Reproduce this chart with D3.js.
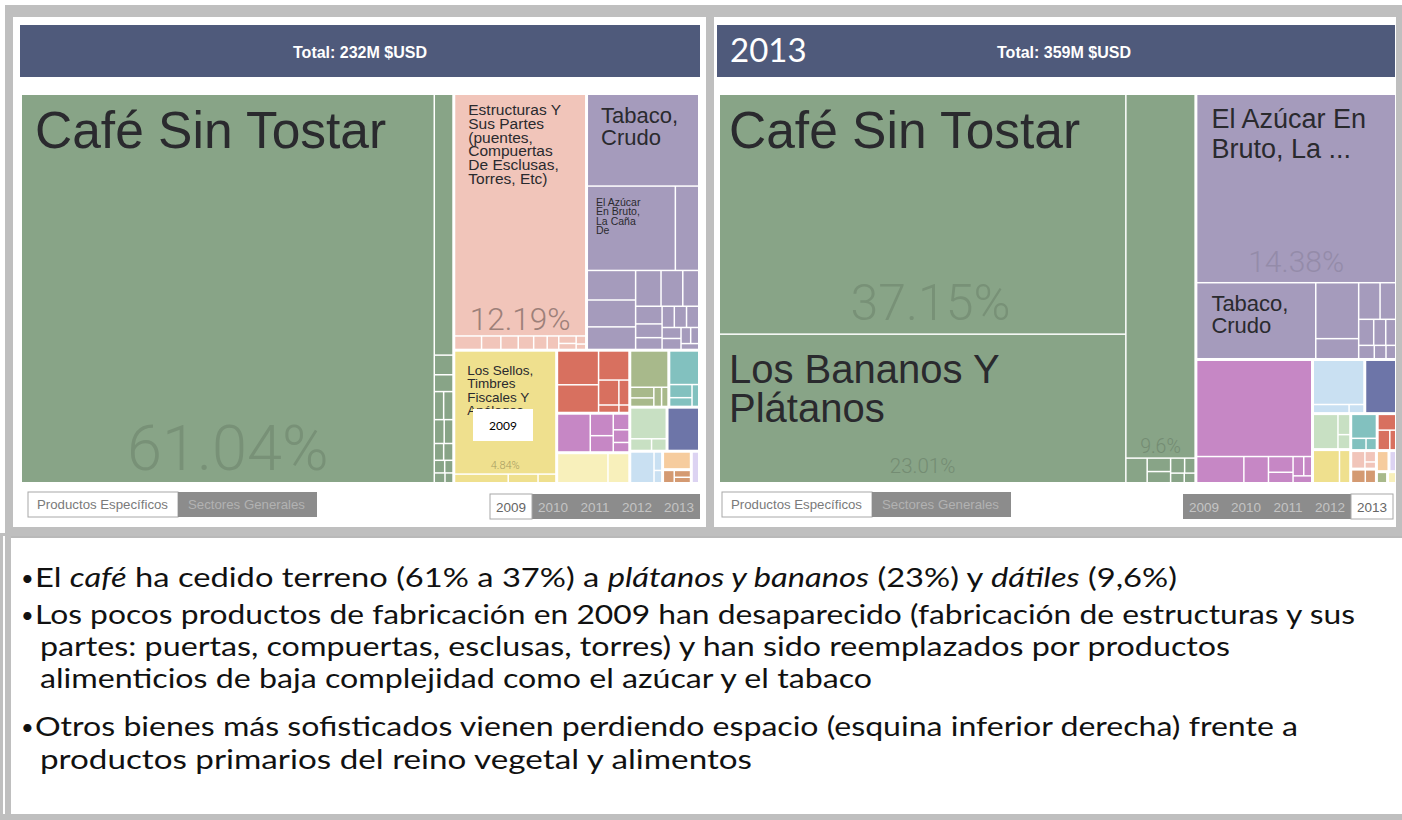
<!DOCTYPE html>
<html>
<head>
<meta charset="utf-8">
<script src="https://cdn.jsdelivr.net/npm/d3@7"></script>
<style>
  html, body { margin: 0; padding: 0; background: #fff; }
  svg { display: block; }
</style>
</head>
<body>
<svg id="chart" width="1402" height="820"></svg>
<script>
// ---- Data -------------------------------------------------------------
// Export shares (% of total) per product: [sector, group, product, share]
const panelYears = ["2009", "2013"];
const panelTotals = ["232M", "359M"];
const yearButtons = ["2009", "2010", "2011", "2012", "2013"];
const viewButtons = ["Productos Específicos", "Sectores Generales"];

const products2009 = [
  ["Productos Vegetales", "cafe", "Café Sin Tostar", 61.04],
  ["Productos Vegetales", "frutas", "Los Bananos Y Plátanos", 1.86],
  ["Productos Vegetales", "frutas2", "Dátiles", 0.14],
  ["Productos Vegetales", "cacao", "Cacao En Grano", 0.12],
  ["Productos Vegetales", "yuca", "Yuca", 0.10],
  ["Productos Vegetales", "frij", "Frijoles", 0.10],
  ["Productos Vegetales", "frutas3", "Frutas Tropicales", 0.09],
  ["Productos Vegetales", "hort", "Hortalizas", 0.08],
  ["Productos Vegetales", "leg", "Legumbres", 0.06],
  ["Productos Vegetales", "maiz", "Maíz", 0.06],
  ["Productos Vegetales", "esp", "Especias", 0.05],
  ["Productos Vegetales", "sem", "Semillas", 0.04],
  ["Productos Vegetales", "arroz", "Arroz", 0.04],
  ["Productos Vegetales", "flor", "Flores Cortadas", 0.03],
  ["Metales", "estr", "Estructuras Y Sus Partes (puentes, Compuertas De Esclusas, Torres, Etc)", 12.19],
  ["Metales", "tubos", "Tubos De Hierro", 0.14],
  ["Metales", "alam", "Alambre", 0.10],
  ["Metales", "perf", "Perfiles", 0.09],
  ["Metales", "torn", "Tornillos", 0.08],
  ["Metales", "reci", "Recipientes", 0.07],
  ["Metales", "vari", "Varillas", 0.06],
  ["Metales", "herr", "Herramientas", 0.05],
  ["Metales", "clav", "Clavos", 0.04],
  ["Metales", "barr", "Barras", 0.03],
  ["Metales", "chap", "Chapas", 0.02],
  ["Alimentos", "tabaco", "Tabaco, Crudo", 3.94],
  ["Alimentos", "azucar", "El Azúcar En Bruto, La Caña De Azúcar", 2.86],
  ["Alimentos", "azucar", "Azúcar Refinada", 0.76],
  ["Alimentos", "alco", "Alcohol Etílico", 0.55],
  ["Alimentos", "mela", "Melaza", 0.50],
  ["Alimentos", "jugo", "Jugos De Frutas", 0.42],
  ["Alimentos", "sals", "Salsas", 0.35],
  ["Alimentos", "hari", "Harina", 0.30],
  ["Alimentos", "gall", "Galletas", 0.22],
  ["Alimentos", "bebi", "Bebidas", 0.18],
  ["Alimentos", "conf", "Confites", 0.14],
  ["Alimentos", "cpol", "Cacao En Polvo", 0.12],
  ["Alimentos", "choc", "Chocolate", 0.10],
  ["Alimentos", "merm", "Mermeladas", 0.10],
  ["Alimentos", "past", "Pastas", 0.10],
  ["Alimentos", "cons", "Conservas", 0.08],
  ["Alimentos", "ctos", "Café Tostado", 0.08],
  ["Alimentos", "vina", "Vinagre", 0.06],
  ["Alimentos", "hela", "Helados", 0.05],
  ["Alimentos", "leva", "Levaduras", 0.04],
  ["Papel", "sellos", "Los Sellos, Timbres Fiscales Y Análogos", 4.84],
  ["Papel", "impr", "Papel Impreso", 0.18],
  ["Papel", "cart", "Cartón", 0.10],
  ["Papel", "libr", "Libros", 0.06],
  ["Maquinaria", "m1", "Transformadores", 0.55],
  ["Maquinaria", "m2", "Bombas", 0.45],
  ["Maquinaria", "m3", "Motores", 0.35],
  ["Maquinaria", "m4", "Cables", 0.20],
  ["Maquinaria", "m5", "Válvulas", 0.10],
  ["Maquinaria", "m6", "Interruptores", 0.06],
  ["Maquinaria", "m7", "Repuestos", 0.03],
  ["Químicos", "q1", "Medicamentos", 0.50],
  ["Químicos", "q2", "Insecticidas", 0.20],
  ["Químicos", "q3", "Jabones", 0.15],
  ["Químicos", "q4", "Perfumes", 0.10],
  ["Químicos", "q5", "Pinturas", 0.08],
  ["Químicos", "q6", "Abonos", 0.06],
  ["Piedra Y Vidrio", "p1", "Cemento", 0.60],
  ["Piedra Y Vidrio", "p2", "Vidrio", 0.25],
  ["Textiles", "t1", "Camisetas", 0.55],
  ["Textiles", "t2", "Pantalones", 0.10],
  ["Textiles", "t3", "Sacos", 0.08],
  ["Textiles", "t4", "Hilados", 0.06],
  ["Textiles", "t5", "Tejidos", 0.05],
  ["Plásticos", "pl1", "Envases Plásticos", 0.40],
  ["Plásticos", "pl2", "Tubos Plásticos", 0.12],
  ["Plásticos", "pl3", "Neumáticos", 0.08],
  ["Plásticos", "pl4", "Láminas", 0.06],
  ["Productos Animales", "a1", "Carne Bovina", 0.45],
  ["Productos Animales", "a2", "Pescado", 0.10],
  ["Productos Animales", "a3", "Cueros", 0.07],
  ["Instrumentos", "i1", "Instrumentos Médicos", 0.54],
  ["Minerales", "mi1", "Combustibles", 0.30],
  ["Minerales", "mi2", "Sal", 0.06],
  ["Minerales", "mi3", "Arena", 0.04],
  ["Calzado", "c1", "Calzado", 0.20],
  ["Madera", "w1", "Muebles", 0.06],
  ["Madera", "w2", "Madera Aserrada", 0.05],
  ["Madera", "w3", "Carbón Vegetal", 0.04],
  ["Transporte", "tr1", "Partes De Vehículos", 0.10]
];

const products2013 = [
  ["Productos Vegetales", "cafe", "Café Sin Tostar", 37.15],
  ["Productos Vegetales", "banano", "Los Bananos Y Plátanos", 23.01],
  ["Productos Vegetales", "datil", "Dátiles", 9.60],
  ["Productos Vegetales", "cacao", "Cacao En Grano", 0.20],
  ["Productos Vegetales", "frutas3", "Frutas Tropicales", 0.12],
  ["Productos Vegetales", "hort", "Hortalizas", 0.10],
  ["Productos Vegetales", "leg", "Legumbres", 0.08],
  ["Productos Vegetales", "esp", "Especias", 0.06],
  ["Productos Vegetales", "sem", "Semillas", 0.05],
  ["Productos Vegetales", "flor", "Flores Cortadas", 0.04],
  ["Alimentos", "azucar", "El Azúcar En Bruto, La Caña De Azúcar", 14.38],
  ["Alimentos", "tabaco", "Tabaco, Crudo", 3.47],
  ["Alimentos", "alco", "Alcohol Etílico", 0.92],
  ["Alimentos", "mela", "Melaza", 0.33],
  ["Alimentos", "refi", "Azúcar Refinada", 0.30],
  ["Alimentos", "jugo", "Jugos De Frutas", 0.22],
  ["Alimentos", "sals", "Salsas", 0.15],
  ["Alimentos", "hari", "Harina", 0.12],
  ["Alimentos", "gall", "Galletas", 0.10],
  ["Alimentos", "bebi", "Bebidas", 0.08],
  ["Alimentos", "conf", "Confites", 0.06],
  ["Alimentos", "past", "Pastas", 0.05],
  ["Químicos", "q1", "Medicamentos", 4.30],
  ["Químicos", "q2", "Insecticidas", 0.48],
  ["Químicos", "q3", "Jabones", 0.25],
  ["Químicos", "q4", "Perfumes", 0.15],
  ["Químicos", "q5", "Pinturas", 0.10],
  ["Químicos", "q6", "Abonos", 0.08],
  ["Químicos", "q7", "Colorantes", 0.06],
  ["Químicos", "q8", "Pegamentos", 0.05],
  ["Minerales", "mi1", "Combustibles", 0.90],
  ["Minerales", "mi2", "Sal", 0.12],
  ["Minerales", "mi3", "Arena", 0.05],
  ["Instrumentos", "i1", "Instrumentos Médicos", 0.65],
  ["Productos Animales", "a1", "Carne Bovina", 0.35],
  ["Productos Animales", "a2", "Pescado", 0.10],
  ["Productos Animales", "a3", "Cueros", 0.07],
  ["Papel", "impr", "Papel Impreso", 0.35],
  ["Papel", "cart", "Cartón", 0.14],
  ["Plásticos", "pl1", "Envases Plásticos", 0.25],
  ["Plásticos", "pl2", "Tubos Plásticos", 0.07],
  ["Plásticos", "pl3", "Neumáticos", 0.05],
  ["Maquinaria", "m1", "Transformadores", 0.12],
  ["Maquinaria", "m2", "Bombas", 0.10],
  ["Maquinaria", "m3", "Motores", 0.05],
  ["Metales", "tubos", "Tubos De Hierro", 0.10],
  ["Metales", "alam", "Alambre", 0.05],
  ["Metales", "torn", "Tornillos", 0.03],
  ["Madera", "w1", "Muebles", 0.08],
  ["Madera", "w2", "Madera Aserrada", 0.06],
  ["Calzado", "c1", "Calzado", 0.10],
  ["Transporte", "tr1", "Partes De Vehículos", 0.06],
  ["Piedra Y Vidrio", "p1", "Cemento", 0.04],
  ["Textiles", "t1", "Camisetas", 0.05]
];

const bulletPoints = [
  [["El ", false], ["café", true], [" ha cedido terreno (61% a 37%) a ", false], ["plátanos y bananos", true], [" (23%) y ", false], ["dátiles", true], [" (9,6%)", false]],
  [["Los pocos productos de fabricación en 2009 han desaparecido (fabricación de estructuras y sus", false]],
  [["partes: puertas, compuertas, esclusas, torres) y han sido reemplazados por productos", false]],
  [["alimenticios de baja complejidad como el azúcar y el tabaco", false]],
  [["Otros bienes más sofisticados vienen perdiendo espacio (esquina inferior derecha) frente a", false]],
  [["productos primarios del reino vegetal y alimentos", false]]
];

// ---- Styles -----------------------------------------------------------
const sectorColors = {
  "Productos Vegetales": "#88a487",
  "Metales": "#f1c5ba",
  "Alimentos": "#a59bbc",
  "Papel": "#efe08e",
  "Maquinaria": "#d8705f",
  "Químicos": "#c687c5",
  "Textiles": "#a8b98b",
  "Piedra Y Vidrio": "#f8f0bb",
  "Productos Animales": "#c8e0c3",
  "Plásticos": "#82c1bf",
  "Instrumentos": "#6d75a8",
  "Minerales": "#c9e0f2",
  "Calzado": "#f6cc9e",
  "Madera": "#d49a72",
  "Transporte": "#dcd3f2"
};

// Label layout per tile: text lines, font size, line height, offsets
const tileLabels = {
  "2009": {
    "Café Sin Tostar": { lines: ["Café Sin Tostar"], size: 51.5, lh: 50, dx: 13, dy: 53, pct: 63, pctDy: 12, pctK: 0.35 },
    "Estructuras Y Sus Partes (puentes, Compuertas De Esclusas, Torres, Etc)": {
      lines: ["Estructuras Y", "Sus Partes", "(puentes,", "Compuertas", "De Esclusas,", "Torres, Etc)"],
      size: 15.5, lh: 13.8, dx: 13, dy: 20, pct: 31.5, pctDy: 5, pctK: 1.2 },
    "Tabaco, Crudo": { lines: ["Tabaco,", "Crudo"], size: 22, lh: 22, dx: 13, dy: 28 },
    "El Azúcar En Bruto, La Caña De Azúcar": { lines: ["El Azúcar", "En Bruto,", "La Caña", "De"], size: 10.5, lh: 9.5, dx: 8, dy: 19 },
    "Los Sellos, Timbres Fiscales Y Análogos": {
      lines: ["Los Sellos,", "Timbres", "Fiscales Y", "Análogos"], size: 13.5, lh: 13.5, dx: 12, dy: 23, pct: 11, pctDy: 4, pctK: 1.0 }
  },
  "2013": {
    "Café Sin Tostar": { lines: ["Café Sin Tostar"], size: 51.5, lh: 50, dx: 9, dy: 53, pct: 50, pctDy: 13, pctDx: 8, pctK: 0.35 },
    "Los Bananos Y Plátanos": { lines: ["Los Bananos Y", "Plátanos"], size: 40, lh: 39, dx: 9, dy: 48, pct: 20.5, pctDy: 9, pctK: 0.45 },
    "Dátiles": { lines: [], pct: 19.5, pctDy: 4, pctK: 0.45 },
    "El Azúcar En Bruto, La Caña De Azúcar": { lines: ["El Azúcar En", "Bruto, La ..."], size: 27, lh: 30, dx: 14, dy: 33, pct: 30, pctDy: 10, pctK: 0.3 },
    "Tabaco, Crudo": { lines: ["Tabaco,", "Crudo"], size: 22, lh: 22, dx: 14, dy: 28 }
  }
};

const W = 1402, H = 820;
const frameGray = "#bfbfbf";
const headerColor = "#4f5a7b";
const panels = [
  { x: 13, w: 693, header: [20, 700], tree: [22, 698], views: 28, yearsX: 490, active: 0 },
  { x: 714, w: 682, header: [717, 1395], tree: [720, 1395], views: 722, yearsX: 1183, active: 4 }
];
const treeTop = 95, treeBottom = 482;

const svg = d3.select("#chart");

// ---- Frames -----------------------------------------------------------
svg.append("rect").attr("x", 5).attr("y", 5).attr("width", W - 5).attr("height", 531).attr("fill", frameGray);
panels.forEach(p => {
  svg.append("rect").attr("x", p.x).attr("y", 17).attr("width", p.w).attr("height", 510).attr("fill", "#fff");
});
// text box
svg.append("rect").attr("x", 0).attr("y", 533).attr("width", 11).attr("height", H - 533).attr("fill", frameGray);
svg.append("rect").attr("x", 3).attr("y", 536).attr("width", 2).attr("height", 278).attr("fill", "#fff");
svg.append("rect").attr("x", 11).attr("y", 536).attr("width", W - 11).attr("height", 278).attr("fill", "#fff");
svg.append("rect").attr("x", 11).attr("y", 536).attr("width", W - 11).attr("height", 2).attr("fill", "#8a8a8a").attr("opacity", 0.6);
svg.append("rect").attr("x", 0).attr("y", 814).attr("width", W).attr("height", 6).attr("fill", frameGray);

// ---- Treemaps ---------------------------------------------------------
const fmtPct = v => d3.format(".2f")(v).replace(/\.?0+$/, "") + "%";

function drawTreemap(rows, year, x0, x1) {
  const data = rows.map(([sector, group, name, value]) => ({ sector, group, name, value }));
  const root = d3.hierarchy(d3.group(data, d => d.sector, d => d.group))
    .sum(d => d.value)
    .sort((a, b) => b.value - a.value);

  d3.treemap()
    .tile(d3.treemapSquarify)
    .size([x1 - x0, treeBottom - treeTop])
    .paddingInner(d => d.depth === 0 ? 3 : 1.5)
    .round(false)(root);

  const g = svg.append("g").attr("transform", `translate(${x0},${treeTop})`);
  const leaves = root.leaves();

  g.selectAll("rect.tile").data(leaves).join("rect")
    .attr("class", "tile")
    .attr("x", d => d.x0).attr("y", d => d.y0)
    .attr("width", d => Math.max(0, d.x1 - d.x0))
    .attr("height", d => Math.max(0, d.y1 - d.y0))
    .attr("fill", d => sectorColors[d.data.sector]);

  const labels = tileLabels[year];
  leaves.filter(d => labels[d.data.name]).forEach(d => {
    const cfg = labels[d.data.name];
    const base = sectorColors[d.data.sector];
    if (cfg.lines.length) {
      const t = g.append("text")
        .attr("x", d.x0 + cfg.dx).attr("y", d.y0 + cfg.dy)
        .attr("font-family", "'Liberation Sans', Arial, sans-serif")
        .attr("font-size", cfg.size)
        .attr("fill", "#2a2a2e");
      cfg.lines.forEach((line, i) => {
        t.append("tspan").attr("x", d.x0 + cfg.dx).attr("dy", i === 0 ? 0 : cfg.lh).text(line);
      });
    }
    if (cfg.pct) {
      g.append("text")
        .attr("x", (d.x0 + d.x1) / 2 + (cfg.pctDx || 0)).attr("y", d.y1 - cfg.pctDy)
        .attr("text-anchor", "middle")
        .attr("font-family", "Roboto, 'Liberation Sans', sans-serif")
        .attr("font-weight", 300)
        .attr("font-size", cfg.pct)
        .attr("fill", d3.color(base).darker(cfg.pctK))
        .text(fmtPct(d.data.value));
    }
  });
}

panels.forEach((p, i) => {
  // header bar
  svg.append("rect").attr("x", p.header[0]).attr("y", 25)
    .attr("width", p.header[1] - p.header[0]).attr("height", 52).attr("fill", headerColor);
  svg.append("text").attr("x", (p.header[0] + p.header[1]) / 2 + (i ? 8 : 0)).attr("y", 57.5)
    .attr("text-anchor", "middle").attr("fill", "#fff")
    .attr("font-family", "'Liberation Sans', Arial, sans-serif").attr("font-weight", 700)
    .attr("font-size", 16).text(`Total: ${panelTotals[i]} $USD`);

  drawTreemap(i === 0 ? products2009 : products2013, panelYears[i], p.tree[0], p.tree[1]);

  // view toggle
  const vx = p.views, vy = 492;
  svg.append("rect").attr("x", vx).attr("y", vy).attr("width", 150).attr("height", 25)
    .attr("fill", "#fff").attr("stroke", "#a8a8a8");
  svg.append("rect").attr("x", vx + 150).attr("y", vy).attr("width", 139).attr("height", 25)
    .attr("fill", "#8c8c8c");
  svg.append("text").attr("x", vx + 9).attr("y", vy + 17)
    .attr("font-family", "'Liberation Sans', Arial, sans-serif").attr("font-size", 13)
    .attr("textLength", 131).attr("lengthAdjust", "spacingAndGlyphs")
    .attr("fill", "#7a7a7a").text(viewButtons[0]);
  svg.append("text").attr("x", vx + 160).attr("y", vy + 17)
    .attr("font-family", "'Liberation Sans', Arial, sans-serif").attr("font-size", 13)
    .attr("textLength", 117).attr("lengthAdjust", "spacingAndGlyphs")
    .attr("fill", "#b2b2b2").text(viewButtons[1]);

  // year selector
  const yx = p.yearsX, yy = 494, cw = 42;
  svg.append("rect").attr("x", yx).attr("y", yy).attr("width", cw * 5).attr("height", 25).attr("fill", "#8c8c8c");
  yearButtons.forEach((yr, k) => {
    const active = k === p.active;
    if (active) {
      svg.append("rect").attr("x", yx + k * cw).attr("y", yy).attr("width", cw).attr("height", 25)
        .attr("fill", "#fff").attr("stroke", "#a8a8a8");
    }
    svg.append("text").attr("x", yx + k * cw + cw / 2).attr("y", yy + 17.5).attr("text-anchor", "middle")
      .attr("font-family", "'Liberation Sans', Arial, sans-serif").attr("font-size", 13.5)
      .attr("fill", active ? "#666" : "#c4c4c4").text(yr);
  });
});

// Year tags
svg.append("rect").attr("x", 473).attr("y", 409).attr("width", 60).attr("height", 32).attr("fill", "#fff");
svg.append("text").attr("x", 503).attr("y", 430).attr("text-anchor", "middle")
  .attr("font-family", "Lato, 'Open Sans', sans-serif").attr("font-size", 12).attr("fill", "#000").text(panelYears[0]);
svg.append("text").attr("x", 730).attr("y", 62)
  .attr("font-family", "Lato, 'Open Sans', sans-serif").attr("font-size", 33).attr("fill", "#fff").text(panelYears[1]);

// ---- Bullet text ------------------------------------------------------
const lineY = [587, 624, 656, 688, 736, 769];
const lineX = [35, 35, 40, 40, 35, 40];
const lineW = [1142, 1320, 1190, 832, 1263, 712];
const bulletAt = [0, 1, 4];
bulletPoints.forEach((segs, i) => {
  const t = svg.append("text").attr("x", lineX[i]).attr("y", lineY[i])
    .attr("font-family", "Lato, 'Open Sans', sans-serif").attr("font-size", 26.5).attr("fill", "#111")
    .attr("textLength", lineW[i]).attr("lengthAdjust", "spacingAndGlyphs");
  segs.forEach(([s, it]) => t.append("tspan").attr("font-style", it ? "italic" : "normal").text(s));
  if (bulletAt.includes(i)) {
    svg.append("text").attr("x", 21).attr("y", lineY[i] - 1)
      .attr("font-family", "Lato, sans-serif").attr("font-size", 22).attr("fill", "#111").text("•");
  }
});
</script>
</body>
</html>
